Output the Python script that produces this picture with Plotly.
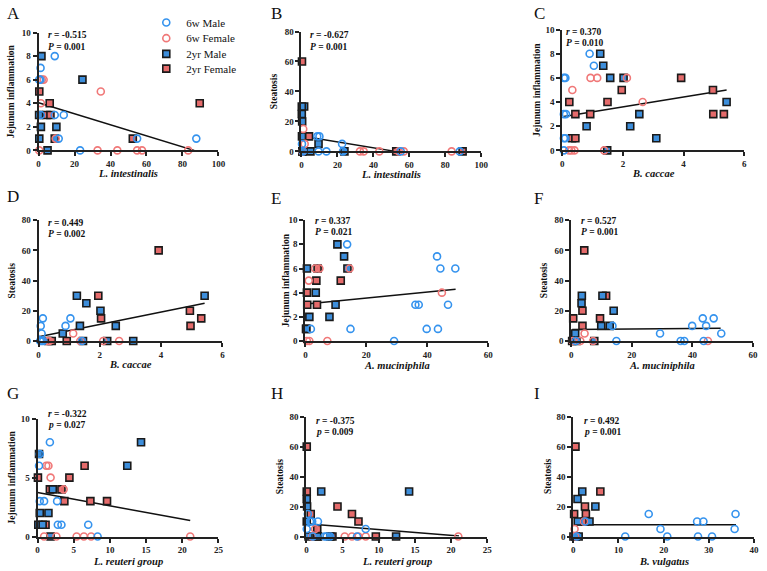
import plotly.graph_objects as go

W, H = 767, 571

# ---------------- data ----------------
# Panel A: Jejunum inflammation vs L. intestinalis
A_m6_x = [9.0, 1.1, 0.3, 1.0, 1.3, 9.0, 14.0, 11.2, 54.8, 87.7, 23.1]
A_m6_y = [8, 7, 6, 6, 3, 3, 3, 1, 1, 1, 0]
A_f6_x = [1.8, 2.8, 34.6, 1.3, 9.5, 0.4, 32.8, 43.8, 54.8, 57.5, 83.2]
A_f6_y = [6, 6, 5, 4, 1, 0, 0, 0, 0, 0, 0]
A_m2_x = [1.6, 24.4, 0.3, 1.3, 9.9, 0.4, 9.0, 5.0]
A_m2_y = [8, 6, 3, 2, 2, 1, 1, 0]
A_f2_x = [0.4, 6.2, 89.6, 4.4, 6.6, 52.4]
A_f2_y = [5, 4, 4, 3, 3, 1]
A_fit_x = [0, 86.5]
A_fit_y = [4.04, 0]

# Panel B: Steatosis vs L. intestinalis
B_m6_x = [0.3, 8.8, 10.0, 22.6, 0.8, 9.5, 13.9, 23.1, 55.2, 88.0]
B_m6_y = [5, 10, 10, 5, 0, 0, 0, 0, 0, 0]
B_f6_x = [1.0, 1.8, 0.6, 32.5, 34.6, 43.3, 54.1, 56.9, 83.5]
B_f6_y = [15, 5, 0, 0, 0, 0, 0, 0, 0]
B_m2_x = [1.5, 0.2, 0.2, 0.4, 0.3, 9.5, 23.9, 5.0, 0.5]
B_m2_y = [30, 30, 25, 20, 10, 5, 0, 0, 0]
B_f2_x = [0.3, 4.2, 52.7, 89.6, 0.5]
B_f2_y = [60, 10, 0, 0, 0]
B_fit_x = [0, 52.3]
B_fit_y = [10.3, 0]

# Panel C: Jejunum inflammation vs B. caccae
C_m6_x = [0.9, 1.04, 0.05, 0.1, 0.05, 0.12, 0.05, 0.1, 0.05]
C_m6_y = [8, 7, 6, 6, 3, 3, 1, 1, 0]
C_f6_x = [0.93, 1.15, 2.13, 0.33, 2.65, 1.38, 0.22, 0.3, 0.4]
C_f6_y = [6, 6, 6, 5, 4, 0, 0, 0, 0]
C_m2_x = [1.25, 1.35, 1.58, 2.02, 5.42, 2.54, 0.8, 2.24, 3.1, 1.48]
C_m2_y = [8, 7, 6, 6, 4, 3, 2, 2, 1, 0]
C_f2_x = [3.92, 1.96, 4.97, 0.23, 1.49, 0.43, 0.92, 4.98, 5.33, 0.32, 0.43]
C_f2_y = [6, 5, 5, 4, 4, 3, 3, 3, 3, 1, 1]
C_fit_x = [0.05, 5.42]
C_fit_y = [2.8, 5.0]

# Panel D: Steatosis vs B. caccae
D_m6_x = [0.14, 0.07, 0.1, 0.88, 1.04, 0.05, 0.1, 0.15, 1.42]
D_m6_y = [15, 10, 5, 10, 15, 0, 0, 0, 0]
D_f6_x = [1.13, 1.36, 2.11, 2.63, 0.3, 0.35]
D_f6_y = [5, 0, 0, 0, 0, 0]
D_m2_x = [1.25, 1.56, 2.02, 1.35, 2.52, 0.79, 1.45, 2.24, 3.09, 5.42]
D_m2_y = [30, 25, 20, 10, 10, 5, 0, 0, 0, 30]
D_f2_x = [3.92, 1.95, 2.04, 4.94, 4.96, 5.31, 0.92, 0.32, 0.43]
D_f2_y = [60, 30, 15, 20, 10, 15, 0, 0, 0]
D_fit_x = [0.05, 5.42]
D_fit_y = [3.0, 25.0]

# Panel E: Jejunum inflammation vs A. muciniphila
E_m6_x = [13.7, 43.2, 44.3, 49.2, 36.1, 37.2, 46.8, 14.8, 39.8, 43.5, 29.1, 1.8]
E_m6_y = [8, 7, 6, 6, 3, 3, 3, 1, 1, 1, 0, 1]
E_f6_x = [44.8, 7.2, 0.5, 1.3, 1.1, 3.2, 4.6, 14.5]
E_f6_y = [4, 0, 0, 0, 5, 6, 6, 6]
E_m2_x = [10.5, 12.7, 13.8, 0.5, 3.4, 9.9, 1.3, 7.9, 0.3]
E_m2_y = [8, 7, 6, 6, 4, 3, 2, 2, 1]
E_f2_x = [3.6, 11.6, 0.5, 4.0, 0.6, 3.8, 0.2]
E_f2_y = [5, 5, 4, 6, 3, 3, 1]
E_fit_x = [0.3, 49.3]
E_fit_y = [3.06, 4.28]

# Panel F: Steatosis vs A. muciniphila
F_m6_x = [13.6, 29.3, 39.9, 43.4, 44.5, 47.0, 49.5, 1.5, 14.9, 36.1, 37.3, 43.7]
F_m6_y = [10, 5, 10, 15, 10, 15, 5, 0, 0, 0, 0, 0]
F_f6_x = [4.4, 45.1, 0.5, 3.0, 7.2]
F_f6_y = [5, 0, 0, 0, 0]
F_m2_x = [3.5, 3.4, 10.3, 14.0, 9.9, 12.7, 1.3, 7.6, 1.7]
F_m2_y = [30, 25, 30, 20, 10, 10, 5, 0, 0]
F_f2_x = [4.3, 11.5, 3.7, 9.5, 0.65, 3.7, 0.3]
F_f2_y = [60, 30, 20, 15, 15, 10, 0]
F_fit_x = [0.3, 49.3]
F_fit_y = [7.6, 8.5]

# Panel G: Jejunum inflammation vs L. reuteri group
G_m6_x = [1.7, 0.3, 0.2, 0.3, 0.9, 2.7, 2.8, 3.3, 7.0, 8.3]
G_m6_y = [8, 7, 6, 3, 3, 3, 1, 1, 1, 0]
G_f6_x = [1.2, 1.5, 1.8, 3.6, 0.9, 2.6, 5.4, 6.4, 7.4, 21.1]
G_f6_y = [6, 6, 5, 4, 0, 0, 0, 0, 0, 0]
G_m2_x = [14.3, 12.4, 2.1, 0.3, 1.5, 0.1, 0.7, 1.8, 0.2]
G_m2_y = [8, 6, 4, 2, 2, 1, 1, 0, 7]
G_f2_x = [6.5, 4.4, 0.05, 1.7, 3.3, 3.7, 7.3, 9.6, 1.1]
G_f2_y = [6, 5, 5, 4, 4, 3, 3, 3, 1]
G_fit_x = [0, 21.1]
G_fit_y = [3.73, 1.35]

# Panel H: Steatosis vs L. reuteri group
H_m6_x = [0.2, 0.5, 0.8, 1.6, 8.2, 0.05, 0.9, 2.5, 2.8, 3.3, 7.0]
H_m6_y = [15, 10, 10, 10, 5, 5, 0, 0, 0, 0, 0]
H_f6_x = [0.8, 5.3, 6.3, 7.2, 8.2, 21.0, 1.2]
H_f6_y = [0, 0, 0, 0, 0, 0, 5]
H_m2_x = [2.05, 14.2, 0.05, 0.1, 0.05, 12.4, 1.5, 3.3, 0.3]
H_m2_y = [30, 30, 25, 20, 10, 0, 0, 0, 0]
H_f2_x = [0.05, 0.05, 4.3, 6.3, 7.2, 0.6, 1.5, 9.6, 1.6, 3.6]
H_f2_y = [60, 30, 20, 15, 10, 15, 5, 0, 0, 0]
H_fit_x = [0, 21.1]
H_fit_y = [8.5, 0.4]

# Panel I: Steatosis vs B. vulgatus
I_m6_x = [16.7, 19.3, 27.4, 28.8, 35.9, 35.7, 11.5, 20.8, 27.6, 30.7, 2.7, 0.8]
I_m6_y = [15, 5, 10, 10, 15, 5, 0, 0, 0, 0, 10, 0]
I_f6_x = [0.3, 0.5, 2.4]
I_f6_y = [5, 0, 10]
I_m2_x = [2.0, 0.95, 4.9, 1.0, 3.6, 1.2, 0.5]
I_m2_y = [30, 25, 20, 10, 10, 0, 0]
I_f2_x = [0.5, 6.0, 2.6, 2.8, 0.2, 2.55, 0.05]
I_f2_y = [60, 30, 20, 15, 15, 10, 0]
I_fit_x = [0.2, 36]
I_fit_y = [7.8, 7.8]

panel_letters = ["A", "B", "C", "D", "E", "F", "G", "H", "I"]
x_titles = ["L. intestinalis", "L. intestinalis", "B. caccae", "B. caccae",
            "A. muciniphila", "A. muciniphila", "L. reuteri group",
            "L. reuteri group", "B. vulgatus"]
y_titles = ["Jejunum inflammation", "Steatosis", "Jejunum inflammation", "Steatosis",
            "Jejunum inflammation", "Steatosis", "Jejunum inflammation", "Steatosis",
            "Steatosis"]
r_values = ["-0.515", "-0.627", "0.370", "0.449", "0.337", "0.527", "-0.322", "-0.375", "0.492"]
p_values = ["0.001", "0.001", "0.010", "0.002", "0.021", "0.001", "0.027", "0.009", "0.001"]
p_letter = ["P", "P", "P", "P", "P", "P", "p", "p", "p"]
x_max = [100, 100, 6, 6, 60, 60, 25, 25, 40]
x_dtick = [20, 20, 2, 2, 20, 20, 5, 5, 10]
y_max = [10, 80, 10, 80, 10, 80, 10, 80, 80]
y_dtick = [2, 20, 2, 20, 2, 20, 5, 20, 20]
group_names = ["6w Male", "6w Female", "2yr Male", "2yr Female"]

# ---------------- layout (pixel boxes) ----------------
boxes = [
    (37, 219, 28, 148), (303, 485, 27, 149), (567, 751, 25, 148),
    (37, 223, 219, 342), (307, 492, 219, 342), (576, 760, 219, 342),
    (36, 219, 421, 541), (308, 491, 419, 541), (578, 761, 419, 541),
]
letter_pos = [(3, 9), (270, 9), (536, 9), (3, 195), (270, 197), (536, 197),
              (3, 395), (270, 395), (536, 395)]
rp_pos = [(45, 31), (310, 31), (569, 27), (45, 222), (315, 220), (584, 220),
          (45, 416), (316, 423), (587, 423)]
ytitle_x = [10, 276, 541, 10, 287, 548, 10, 281, 552]
xtitle_y = [172, 173, 172, 366, 367, 367, 566, 566, 566]
legend_top = [3, 19, 35, 50]

SERIF = "Liberation Serif"
BLUE_O = "#3593ee"
RED_O = "#f07878"
BLUE_F = "#3d8edb"
RED_F = "#e56b6b"

styles = {
    "m6": dict(symbol="circle-open", size=7, color=BLUE_O, line=dict(width=1.6, color=BLUE_O)),
    "f6": dict(symbol="circle-open", size=7, color=RED_O, line=dict(width=1.6, color=RED_O)),
    "m2": dict(symbol="square", size=7, color=BLUE_F, line=dict(width=1.6, color="#1a1a1a")),
    "f2": dict(symbol="square", size=7, color=RED_F, line=dict(width=1.6, color="#1a1a1a")),
}
keys = ["m6", "f6", "m2", "f2"]
legend_ids = {"m6": "legend", "f6": "legend2", "m2": "legend3", "f2": "legend4"}

fig = go.Figure()
annotations = []
layout_axes = {}
g = globals()

for i, L in enumerate(panel_letters):
    n = i + 1
    xa = "x" if n == 1 else f"x{n}"
    ya = "y" if n == 1 else f"y{n}"
    l, r, t, b = boxes[i]
    common = dict(showline=True, linecolor="#222", linewidth=2, ticks="outside", ticklen=4,
                  tickwidth=2, tickcolor="#222", showgrid=False, zeroline=False,
                  tickfont=dict(family=SERIF, size=9, color="#222", weight="bold"))
    layout_axes["xaxis" if n == 1 else f"xaxis{n}"] = dict(
        domain=[l / W, r / W], anchor=ya, range=[0, x_max[i]], dtick=x_dtick[i], **common)
    layout_axes["yaxis" if n == 1 else f"yaxis{n}"] = dict(
        domain=[1 - b / H, 1 - t / H], anchor=xa, range=[0, y_max[i]], dtick=y_dtick[i], **common)

    fig.add_trace(go.Scatter(x=g[L + "_fit_x"], y=g[L + "_fit_y"], mode="lines",
                             xaxis=xa, yaxis=ya, line=dict(color="#111", width=1.5),
                             showlegend=False, cliponaxis=False))
    for key in ["f2", "m2", "f6", "m6"]:
        k = keys.index(key)
        fig.add_trace(go.Scatter(x=g[L + "_" + key + "_x"], y=g[L + "_" + key + "_y"],
                                 mode="markers", xaxis=xa, yaxis=ya, marker=styles[key],
                                 name=group_names[k], legend=legend_ids[key],
                                 showlegend=(n == 1), cliponaxis=False))

    lx, ly = letter_pos[i]
    annotations.append(dict(text=L, x=lx / W, y=1 - ly / H, xref="paper", yref="paper",
                            xanchor="left", yanchor="middle", showarrow=False,
                            font=dict(family=SERIF, size=17, color="#111")))
    rx, ry = rp_pos[i]
    annotations.append(dict(text=f"<b><i>r</i> = {r_values[i]}</b>", x=rx / W, y=1 - ry / H,
                            xref="paper", yref="paper", xanchor="left", yanchor="middle",
                            showarrow=False, font=dict(family=SERIF, size=9.5, color="#111")))
    annotations.append(dict(text=f"<b><i>{p_letter[i]}</i> = {p_values[i]}</b>", x=rx / W,
                            y=1 - (ry + 11.5) / H, xref="paper", yref="paper",
                            xanchor="left", yanchor="middle", showarrow=False,
                            font=dict(family=SERIF, size=9.5, color="#111")))
    annotations.append(dict(text=f"<b><i>{x_titles[i]}</i></b>", x=(l + r) / 2 / W,
                            y=1 - xtitle_y[i] / H, xref="paper", yref="paper",
                            xanchor="center", yanchor="middle", showarrow=False,
                            font=dict(family=SERIF, size=10.5, color="#111")))
    annotations.append(dict(text=f"<b>{y_titles[i]}</b>", x=ytitle_x[i] / W,
                            y=1 - (t + b) / 2 / H, xref="paper", yref="paper",
                            xanchor="center", yanchor="middle", showarrow=False, textangle=-90,
                            font=dict(family=SERIF, size=9.5, color="#111")))

legends = {}
for k, key in enumerate(keys):
    legends[legend_ids[key]] = dict(
        x=146 / W, y=1 - legend_top[k] / H, xanchor="left", yanchor="top",
        font=dict(family=SERIF, size=11, color="#111"), bgcolor="rgba(0,0,0,0)",
        itemwidth=30, borderwidth=0)

fig.update_layout(
    width=W, height=H, margin=dict(l=0, r=0, t=0, b=0),
    paper_bgcolor="white", plot_bgcolor="white",
    annotations=annotations,
    **legends,
    **layout_axes,
)

fig.write_html("out.html")
